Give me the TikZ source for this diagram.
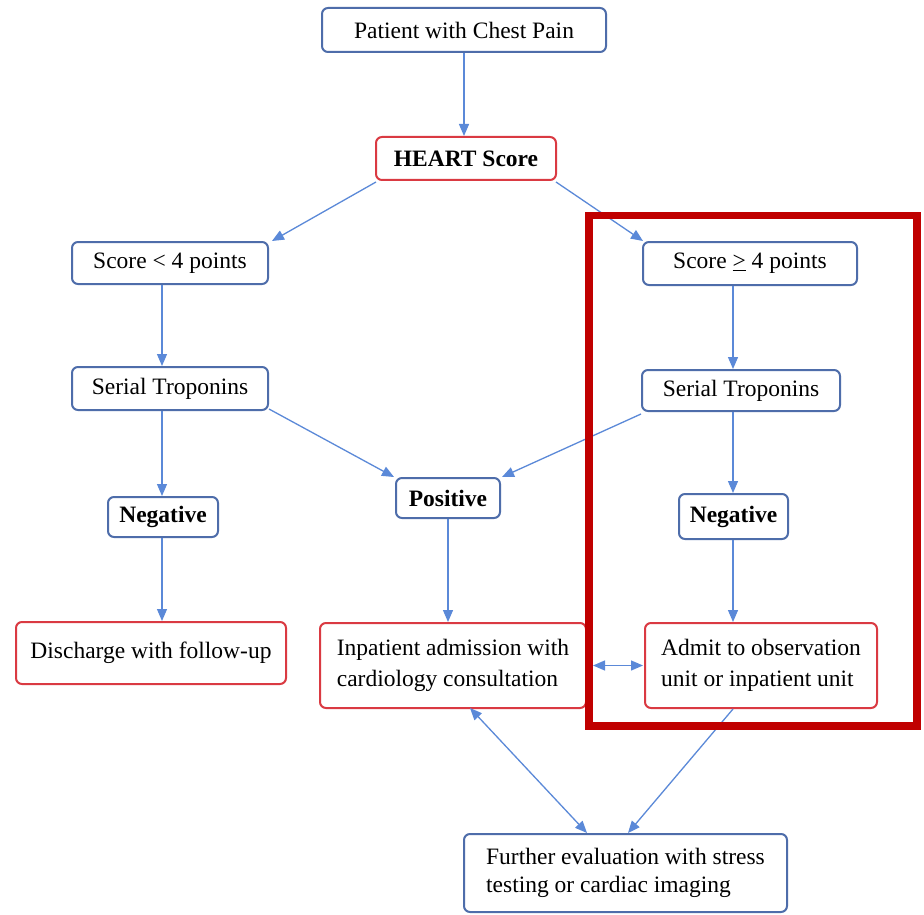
\documentclass[tikz,border=0pt]{standalone}
\usepackage{fontspec}
\setmainfont{Liberation Serif}
\usetikzlibrary{arrows.meta}
\definecolor{boxblue}{HTML}{4E6DAA}
\definecolor{boxred}{HTML}{DA3A42}
\definecolor{arrblue}{HTML}{5B89D8}
\definecolor{hlred}{HTML}{C00000}
\tikzset{
  box/.style={draw=boxblue, rounded corners=6pt, line width=2pt, inner sep=0pt, text=black,
    font=\fontsize{23.5}{28.5}\selectfont},
  redbox/.style={box, draw=boxred},
  wide/.style={font=\fontsize{23.5}{31.5}\selectfont},
  conn/.style={draw=arrblue, line width=1.3pt, -{Triangle[length=12pt,width=10pt]}},
  dconn/.style={draw=arrblue, line width=1.3pt, {Triangle[length=12pt,width=10pt]}-{Triangle[length=12pt,width=10pt]}}
}
\begin{document}
\begin{tikzpicture}[x=1pt,y=-1pt]
\useasboundingbox (0,0) rectangle (924,915);
\fill[white] (0,0) rectangle (924,915);

\node[box, minimum width=284pt, minimum height=44pt] (p) at (464,30) {Patient with Chest Pain};
\node[redbox, minimum width=180pt, minimum height=43pt] (h) at (466,158.5) {\textbf{HEART Score}};
\node[box, minimum width=196pt, minimum height=42pt] (sl) at (170,263) {Score < 4 points};
\node[box, minimum width=214pt, minimum height=43pt] (sr) at (750,263.5) {Score \underline{>} 4 points};
\node[box, minimum width=196pt, minimum height=43pt] (tl) at (170,388.5) {Serial Troponins};
\node[box, minimum width=198pt, minimum height=41pt] (tr) at (741,390.5) {Serial Troponins};
\node[box, minimum width=110pt, minimum height=40pt] (nl) at (163,517) {\textbf{Negative}};
\node[box, minimum width=104pt, minimum height=40pt] (pos) at (448,498) {\textbf{Positive}};
\node[box, minimum width=109pt, minimum height=45pt] (nr) at (733.5,516.5) {\textbf{Negative}};
\node[redbox, minimum width=270pt, minimum height=62pt] (dis) at (151,653) {Discharge with follow-up};
\node[redbox, wide, minimum width=266pt, minimum height=85pt, align=left] (inp) at (453,665.5) {Inpatient admission with\\cardiology consultation};
\node[redbox, wide, minimum width=232pt, minimum height=85pt, align=left] (adm) at (761,665.5) {Admit to observation\\unit or inpatient unit};
\node[box, minimum width=323pt, minimum height=78pt, align=left] (fur) at (625.5,873) {Further evaluation with stress\\testing or cardiac imaging};

\draw[conn] (p.south) -- (p.south |- h.north);
\draw[conn] ([xshift=1pt,yshift=-1pt]h.south west) -- ([xshift=3pt]sl.north east);
\draw[conn] ([xshift=-1pt,yshift=-1pt]h.south east) -- ([xshift=1pt]sr.north west);
\draw[conn] ([xshift=-8pt]sl.south) -- ([xshift=-8pt]tl.north);
\draw[conn] ([xshift=-8pt]tl.south) -- ([xshift=-1pt]nl.north);
\draw[conn] ([xshift=-1pt]nl.south) -- ([xshift=11pt]dis.north);
\draw[conn] ([yshift=2pt]tl.south east) -- ([xshift=-1pt]pos.north west);
\draw[conn] ([yshift=-2pt]tr.south west) -- ([xshift=1pt]pos.north east);
\draw[conn] ([xshift=-17pt]sr.south) -- ([xshift=-8pt]tr.north);
\draw[conn] ([xshift=-8pt]tr.south) -- ([xshift=-0.5pt]nr.north);
\draw[conn] ([xshift=-0.5pt]nr.south) -- ([xshift=-28pt]adm.north);
\draw[conn] (pos.south) -- ([xshift=-5pt]inp.north);
\draw[dconn] ([xshift=6pt]inp.east) -- ([xshift=-1pt]adm.west);
\draw[dconn] ([xshift=17pt,yshift=1pt]inp.south) -- ([xshift=-38.5pt]fur.north);
\draw[conn] ([xshift=-28pt]adm.south) -- ([xshift=2.5pt]fur.north);

\node[draw=hlred, line width=7.5pt, minimum width=328pt, minimum height=510.5pt, inner sep=0pt] (hl) at (753,470.75) {};
\end{tikzpicture}
\end{document}
